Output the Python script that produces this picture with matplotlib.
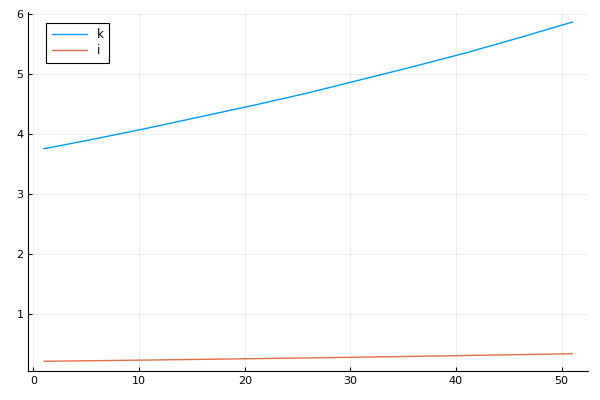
import matplotlib
matplotlib.use("Agg")
import matplotlib.pyplot as plt

# values, every 5 steps
t = [1, 6, 11, 16, 21, 26, 31, 36, 41, 46, 51]
k = [3.76, 3.93, 4.11, 4.30, 4.49, 4.69, 4.91, 5.13, 5.36, 5.61, 5.87]
i = [0.217, 0.227, 0.238, 0.249, 0.261, 0.273, 0.286, 0.299, 0.313, 0.328, 0.343]

fig = plt.figure(figsize=(6, 4), dpi=100)
ax = fig.add_axes([0.047, 0.0725, 0.933, 0.8985])

ax.plot(t, k, color='#009AFA', lw=1, label='k')
ax.plot(t, i, color='#E36F47', lw=1, label='i')

ax.set_xlim(-0.5, 52.5)
ax.set_ylim(0.055, 6.045)
ax.set_xticks([0, 10, 20, 30, 40, 50])
ax.set_yticks([1, 2, 3, 4, 5, 6])
ax.grid(True, color='black', alpha=0.08, lw=0.6)
ax.tick_params(direction='in', length=3, labelsize=8, width=0.8)
for s in ['top', 'right']:
    ax.spines[s].set_visible(False)
for s in ['left', 'bottom']:
    ax.spines[s].set_linewidth(0.8)

leg = ax.legend(loc='upper left', fontsize=8.5, fancybox=False, framealpha=1,
                edgecolor='black', handlelength=3.0, borderpad=0.45,
                labelspacing=0.3, bbox_to_anchor=(0.022, 0.986))
leg.get_frame().set_linewidth(0.8)

fig.savefig('out.png')
